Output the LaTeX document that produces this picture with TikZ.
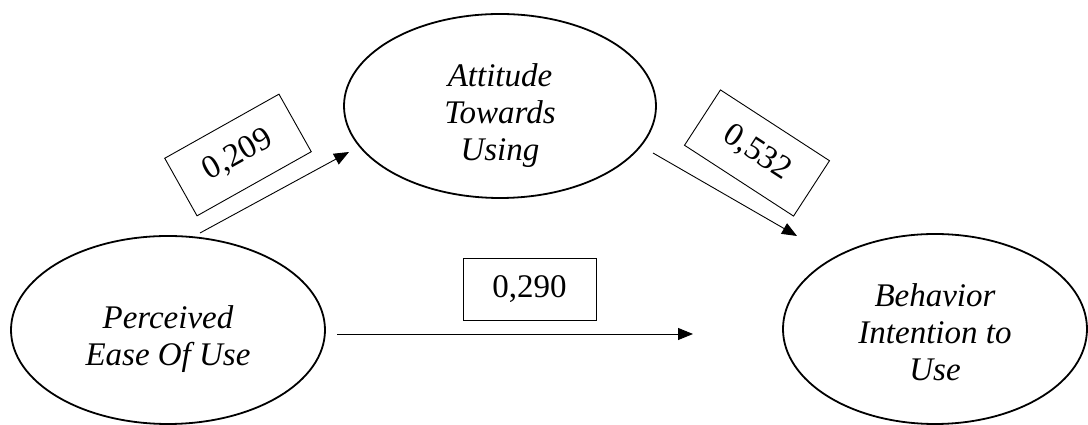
\documentclass[tikz,border=0pt]{standalone}
\usepackage{fontspec}
\setmainfont{Liberation Serif}
\usetikzlibrary{shapes.geometric,arrows.meta}
\newcommand{\stacktext}[2]{\raisebox{#1}[0pt][0pt]{\begin{tabular}{@{}c@{}}#2\end{tabular}}}
\begin{document}
\begin{tikzpicture}[x=1pt,y=1pt,
  construct/.style={ellipse,draw,line width=1.8pt,inner sep=0pt,
    font=\fontsize{33}{37}\selectfont\itshape},
  coef/.style={draw,line width=0.9pt,inner sep=0pt,
    font=\fontsize{33}{37}\selectfont},
  path/.style={line width=0.9pt,-{Triangle[length=15pt,width=12pt]}}]
\useasboundingbox (0,0) rectangle (1088,425);
\node[construct,minimum width=312pt,minimum height=184pt] (att) at (500,319) {\stacktext{-16pt}{Attitude\\Towards\\Using}};
\node[construct,minimum width=314pt,minimum height=188pt] (peou) at (168,95) {\stacktext{-16pt}{Perceived\\Ease Of Use}};
\node[construct,minimum width=304pt,minimum height=190pt] (bi) at (935,96) {\stacktext{-13pt}{Behavior\\Intention to\\Use}};
\coordinate (a1s) at (200,192);
\coordinate (a1e) at (349,273);
\coordinate (a2s) at (653,272);
\coordinate (a2e) at (797,189);
\coordinate (a3s) at (337,91);
\coordinate (a3e) at (693,91);
\draw[path] (a1s) -- (a1e);
\draw[path] (a2s) -- (a2e);
\draw[path] (a3s) -- (a3e);
\node[coef,minimum width=131pt,minimum height=66pt,rotate=29.3] (c1) at (238,270) {0,209};
\node[coef,minimum width=130pt,minimum height=66pt,rotate=-33] (c2) at (757,272) {0,532};
\node[coef,minimum width=133pt,minimum height=62pt] (c3) at (529.5,136) {0,290};
\end{tikzpicture}
\end{document}
